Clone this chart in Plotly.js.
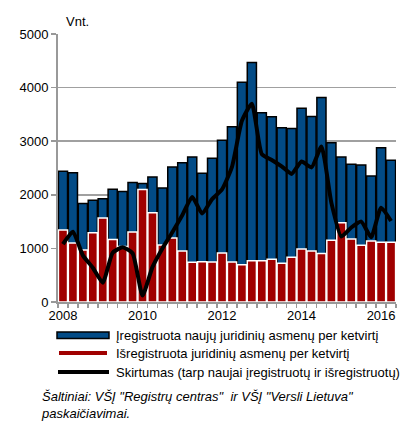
<!DOCTYPE html>
<html>
<head>
<meta charset="utf-8">
<script src="https://cdn.plot.ly/plotly-3.0.1.min.js"></script>
<style>html,body{margin:0;padding:0;background:#fff;}#chart{width:406px;height:421px;}</style>
</head>
<body>
<div id="chart"></div>
<script>
// Quarters 2008 Q1 .. 2016 Q2
const quarters = [
  "2008 Q1","2008 Q2","2008 Q3","2008 Q4",
  "2009 Q1","2009 Q2","2009 Q3","2009 Q4",
  "2010 Q1","2010 Q2","2010 Q3","2010 Q4",
  "2011 Q1","2011 Q2","2011 Q3","2011 Q4",
  "2012 Q1","2012 Q2","2012 Q3","2012 Q4",
  "2013 Q1","2013 Q2","2013 Q3","2013 Q4",
  "2014 Q1","2014 Q2","2014 Q3","2014 Q4",
  "2015 Q1","2015 Q2","2015 Q3","2015 Q4",
  "2016 Q1","2016 Q2"
];
// Įregistruota naujų juridinių asmenų per ketvirtį
const registered = [
  2440, 2410, 1840, 1900,
  1925, 2105, 2060, 2230,
  2210, 2330, 2125, 2520,
  2600, 2705, 2400, 2680,
  3020, 3270, 4100, 4470,
  3530, 3455, 3250, 3235,
  3615, 3463, 3815, 2970,
  2706, 2570, 2558, 2350,
  2880, 2645
];
// Išregistruota juridinių asmenų per ketvirtį
const deregistered = [
  1344, 1100, 972, 1294,
  1565, 1165, 1035, 1307,
  2100, 1665, 1065, 1195,
  950, 740, 750, 745,
  915, 745, 693, 770,
  770, 799, 725, 836,
  988, 953, 905, 1150,
  1480, 1177, 1060, 1139,
  1115, 1115
];
// Skirtumas
const difference = [
  1080, 1310, 870, 640,
  360, 920, 1020, 910,
  120, 650, 1000, 1300,
  1620, 1960, 1650, 1920,
  2100, 2520, 3380, 3700,
  2760, 2650, 2530, 2390,
  2620, 2510, 2900, 1850,
  1220, 1390, 1500, 1210,
  1760, 1510
];
const yearTicks = [2008, 2010, 2012, 2014, 2016];
const yearLabels = ["2008", "2010", "2012", "2014", "2016"];
const seriesNames = [
  "Įregistruota naujų juridinių asmenų per ketvirtį",
  "Išregistruota juridinių asmenų per ketvirtį",
  "Skirtumas (tarp naujai įregistruotų ir išregistruotų)"
];
const unitLabel = "Vnt.";
const sourceText = "Šaltiniai: VŠĮ \"Registrų centras\"  ir VŠĮ \"Versli Lietuva\"<br>paskaičiavimai.";

const xs = quarters.map(q => {
  const [y, qq] = q.split(" Q");
  return Number(y) + (Number(qq) - 1) / 4;
});

const BLUE = "#024b86", RED = "#a00000";
const FONT = "Liberation Sans, Arial, sans-serif";

// plot-area geometry in pixels (for placing legend/labels outside plot)
const L = 58, R = 396, T = 34, B = 302, W = 406, H = 421;
const px = x => (x - L) / (R - L);
const py = y => (B - y) / (B - T);

const traces = [
  {type: "bar", x: xs, y: registered, name: seriesNames[0], width: 0.23,
   marker: {color: BLUE, line: {color: "#000", width: 1.5}}, showlegend: false},
  {type: "bar", x: xs, y: deregistered, name: seriesNames[1], width: 0.23,
   marker: {color: RED, line: {color: "#fff", width: 1.5}}, showlegend: false},
  {type: "scatter", mode: "lines", x: xs, y: difference, name: seriesNames[2],
   line: {color: "#000", width: 4, shape: "spline", smoothing: 0.5}, showlegend: false}
];

const legendRows = [335, 353, 372];
const shapes = [
  {type: "rect", xref: "paper", yref: "paper", x0: px(57), x1: px(109), y0: py(332), y1: py(338.5),
   fillcolor: BLUE, line: {color: "#000", width: 1.5}},
  {type: "rect", xref: "paper", yref: "paper", x0: px(59), x1: px(107), y0: py(351), y1: py(355),
   fillcolor: RED, line: {width: 0}},
  {type: "line", xref: "paper", yref: "paper", x0: px(58), x1: px(109), y0: py(372), y1: py(372),
   line: {color: "#000", width: 4}}
];

const annotations = seriesNames.map((n, i) => ({
  xref: "paper", yref: "paper", x: px(114), y: py(legendRows[i]), xanchor: "left", yanchor: "middle",
  text: n, showarrow: false, font: {family: FONT, size: 13, color: "#000"}
}));
annotations.push({xref: "paper", yref: "paper", x: px(64), y: py(21), xanchor: "left", yanchor: "middle",
  text: unitLabel, showarrow: false, font: {family: FONT, size: 13, color: "#000"}});
annotations.push({xref: "paper", yref: "paper", x: px(39), y: py(387), xanchor: "left", yanchor: "top",
  text: "<i>" + sourceText + "</i>", align: "left", showarrow: false,
  font: {family: FONT, size: 13, color: "#000"}});

const layout = {
  width: W, height: H,
  margin: {l: L, r: W - R, t: T, b: H - B, pad: 0},
  paper_bgcolor: "#fff", plot_bgcolor: "#fff",
  barmode: "overlay",
  font: {family: FONT, size: 13, color: "#000"},
  xaxis: {
    range: [2007.875, 2016.375], tickmode: "array", tickvals: yearTicks, ticktext: yearLabels,
    ticks: "", showgrid: false, zeroline: false,
    showline: true, linecolor: "#999", linewidth: 2,
    tickfont: {family: FONT, size: 13, color: "#000"},
    minor: {tickmode: "linear", tick0: 2007.875, dtick: 0.25, ticks: "outside", ticklen: 4, tickcolor: "#999", tickwidth: 1.5, showgrid: false}
  },
  yaxis: {
    range: [0, 5000], dtick: 1000, ticks: "outside", ticklen: 5, tickcolor: "#999", tickwidth: 1.5,
    showgrid: true, gridcolor: "#a0a0a0", gridwidth: 1.5, zeroline: false,
    showline: true, linecolor: "#999", linewidth: 2,
    tickfont: {family: FONT, size: 13, color: "#000"}
  },
  shapes: shapes,
  annotations: annotations,
  showlegend: false
};

Plotly.newPlot("chart", traces, layout, {displayModeBar: false, staticPlot: true});
</script>
</body>
</html>
